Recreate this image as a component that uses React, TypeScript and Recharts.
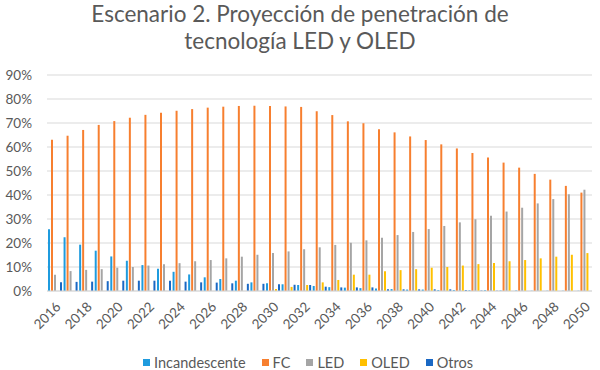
import React from "react";
import { BarChart, Bar, XAxis, YAxis, CartesianGrid, Legend } from "recharts";

const YEARS = [
  "2016", "2017", "2018", "2019", "2020", "2021", "2022", "2023", "2024", "2025",
  "2026", "2027", "2028", "2029", "2030", "2031", "2032", "2033", "2034", "2035",
  "2036", "2037", "2038", "2039", "2040", "2041", "2042", "2043", "2044", "2045",
  "2046", "2047", "2048", "2049", "2050",
];

// shares in %
const INCANDESCENTE = [
  25.7, 22.4, 19.3, 16.8, 14.4, 12.6, 10.8, 9.3, 8.0, 6.9,
  5.7, 5.0, 4.3, 3.6, 3.2, 2.8, 2.5, 2.1, 1.6, 1.4,
  1.2, 1.0, 0.8, 0.6, 0.6, 0.4, 0.4, 0.3, 0.3, 0.2,
  0.2, 0.1, 0.1, 0.1, 0.1,
];
const FC = [
  63.0, 64.7, 67.1, 69.2, 70.8, 72.2, 73.4, 74.3, 75.1, 75.8,
  76.4, 76.8, 77.1, 77.2, 77.1, 76.9, 76.7, 74.9, 73.3, 70.7,
  69.9, 67.4, 66.1, 64.4, 62.9, 61.1, 59.4, 57.5, 55.6, 53.5,
  51.4, 48.8, 46.4, 43.8, 41.0,
];
const LED = [
  6.8, 8.3, 8.8, 9.1, 9.7, 10.0, 10.6, 11.1, 11.6, 12.4,
  12.9, 13.6, 14.3, 15.1, 15.8, 16.5, 17.4, 18.2, 19.2, 20.1,
  21.1, 22.2, 23.3, 24.6, 25.8, 27.1, 28.6, 29.9, 31.4, 33.1,
  34.7, 36.5, 38.3, 40.3, 42.2,
];
const OLED = [
  0, 0, 0, 0, 0, 0, 0, 0, 0, 0,
  0, 0, 0, 0, 0.8, 1.7, 2.5, 3.6, 4.6, 6.8,
  6.8, 8.2, 8.7, 9.1, 9.7, 10.0, 10.6, 11.2, 11.7, 12.4,
  12.9, 13.6, 14.3, 15.1, 15.8,
];
const OTROS = [
  3.6, 3.8, 3.9, 4.1, 4.3, 4.3, 4.3, 4.3, 3.9, 3.6,
  3.5, 3.2, 3.0, 3.0, 2.8, 2.6, 2.5, 1.8, 1.5, 1.5,
  1.5, 0.7, 0.7, 0.7, 0.7, 0.7, 0.4, 0.2, 0.1, 0,
  0, 0, 0, 0, 0,
];

const Y_TICKS = [0, 10, 20, 30, 40, 50, 60, 70, 80, 90];

const SERIES = [
  { key: "incandescente", name: "Incandescente", color: "#1F9BDE" },
  { key: "fc", name: "FC", color: "#F77F2F" },
  { key: "led", name: "LED", color: "#A5A5A5" },
  { key: "oled", name: "OLED", color: "#FFC000" },
  { key: "otros", name: "Otros", color: "#1A68C4" },
];

const data = YEARS.map((year, i) => ({
  year,
  incandescente: INCANDESCENTE[i],
  fc: FC[i],
  led: LED[i],
  oled: OLED[i],
  otros: OTROS[i],
}));

const FONT = "Lato, 'Open Sans', sans-serif";
const TEXT = "#595959";

function LegendRow() {
  return (
    <div
      style={{
        height: 20, boxSizing: "border-box", paddingTop: 4, lineHeight: "15px",
        display: "flex", justifyContent: "center",
        fontFamily: FONT, fontSize: 14.5, color: TEXT, paddingLeft: 40,
      }}
    >
      {SERIES.map((s) => (
        <span key={s.key} style={{ display: "inline-flex", alignItems: "center", marginRight: 16 }}>
          <span style={{ width: 7, height: 7, background: s.color, marginRight: 4 }} />
          {s.name}
        </span>
      ))}
    </div>
  );
}

export default function App() {
  return (
    <div style={{ position: "absolute", left: 0, top: 0, width: 600, height: 370, background: "#fff" }}>
      <div
        style={{
          position: "absolute", left: 0, top: 0, width: 600, textAlign: "center",
          fontFamily: FONT, fontSize: 22.5, lineHeight: "27px", color: TEXT,
        }}
      >
        Escenario 2. Proyección de penetración de
        <br />
        tecnología LED y OLED
      </div>
      <BarChart
        width={600}
        height={370}
        data={data}
        margin={{ top: 75, right: 8, bottom: 0, left: 0 }}
        barSize={2}
        barGap={1}
      >
        <CartesianGrid vertical={false} stroke="#D9D9D9" strokeWidth={1} />
        <XAxis
          dataKey="year"
          interval={1}
          angle={-45}
          textAnchor="end"
          tickLine={false}
          axisLine={{ stroke: "#D9D9D9" }}
          tickSize={0}
          tickMargin={10}
          height={59}
          tick={{ fill: TEXT, fontSize: 13.5, fontFamily: FONT }}
        />
        <YAxis
          width={47}
          domain={[0, 90]}
          ticks={Y_TICKS}
          tickFormatter={(v) => `${v}%`}
          axisLine={false}
          tickLine={false}
          tickSize={0}
          tickMargin={15}
          tick={{ fill: TEXT, fontSize: 13.5, fontFamily: FONT }}
        />
        <Legend
          verticalAlign="bottom"
          wrapperStyle={{ height: 20 }}
          content={() => <LegendRow />}
        />
        {SERIES.map((s) => (
          <Bar key={s.key} dataKey={s.key} name={s.name} fill={s.color} isAnimationActive={false} />
        ))}
      </BarChart>
    </div>
  );
}
